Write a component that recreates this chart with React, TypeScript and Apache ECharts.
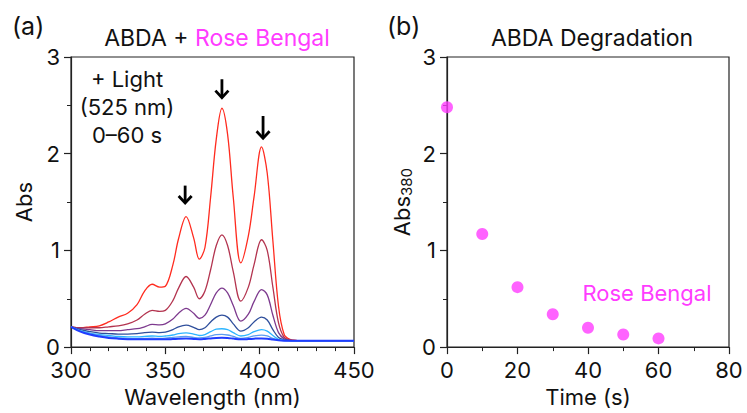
import React, { useEffect, useRef } from "react";
import * as echarts from "echarts";

// ---- Data ----
const wavelengths = [300, 305, 310, 315, 320, 325, 330, 335, 339, 343, 347, 350, 354, 357, 361, 365, 368, 371, 374, 377, 380, 383, 386, 390, 394, 397, 401, 404, 407, 410, 413, 416, 420, 425, 435, 450];

const abs0s = [0.21, 0.2, 0.21, 0.22, 0.26, 0.31, 0.35, 0.44, 0.58, 0.65, 0.62, 0.63, 0.85, 1.12, 1.35, 1.13, 0.91, 1.03, 1.55, 2.15, 2.47, 2.2, 1.55, 0.87, 1.15, 1.55, 2.07, 1.8, 1.1, 0.42, 0.13, 0.08, 0.068, 0.065, 0.065, 0.065];
const abs10s = [0.21, 0.2, 0.2, 0.2, 0.21, 0.22, 0.24, 0.28, 0.34, 0.38, 0.37, 0.38, 0.48, 0.61, 0.73, 0.62, 0.5, 0.58, 0.8, 1.05, 1.16, 1.05, 0.78, 0.475, 0.62, 0.85, 1.11, 1.0, 0.62, 0.25, 0.1, 0.075, 0.068, 0.065, 0.065, 0.065];
const abs20s = [0.21, 0.19, 0.18, 0.17, 0.17, 0.17, 0.18, 0.19, 0.21, 0.234, 0.23, 0.24, 0.29, 0.35, 0.4, 0.35, 0.296, 0.33, 0.44, 0.56, 0.61, 0.56, 0.43, 0.268, 0.34, 0.47, 0.595, 0.54, 0.33, 0.15, 0.085, 0.07, 0.066, 0.065, 0.065, 0.065];
const abs30s = [0.21, 0.18, 0.16, 0.145, 0.14, 0.135, 0.135, 0.14, 0.15, 0.155, 0.15, 0.155, 0.18, 0.21, 0.227, 0.205, 0.18, 0.2, 0.26, 0.31, 0.33, 0.31, 0.24, 0.165, 0.2, 0.26, 0.31, 0.28, 0.18, 0.1, 0.075, 0.068, 0.065, 0.065, 0.065, 0.065];
const abs40s = [0.21, 0.17, 0.145, 0.13, 0.12, 0.11, 0.105, 0.105, 0.11, 0.115, 0.11, 0.115, 0.125, 0.14, 0.148, 0.135, 0.12, 0.13, 0.16, 0.185, 0.19, 0.18, 0.15, 0.115, 0.13, 0.16, 0.18, 0.165, 0.12, 0.08, 0.07, 0.066, 0.065, 0.065, 0.065, 0.065];
const abs50s = [0.21, 0.165, 0.14, 0.12, 0.105, 0.095, 0.09, 0.088, 0.09, 0.092, 0.09, 0.092, 0.1, 0.105, 0.11, 0.1, 0.095, 0.1, 0.115, 0.128, 0.132, 0.125, 0.11, 0.09, 0.1, 0.115, 0.124, 0.115, 0.09, 0.072, 0.066, 0.065, 0.065, 0.065, 0.065, 0.065];
const abs60s = [0.21, 0.16, 0.13, 0.11, 0.095, 0.087, 0.082, 0.08, 0.08, 0.081, 0.08, 0.08, 0.083, 0.086, 0.088, 0.085, 0.082, 0.085, 0.09, 0.095, 0.097, 0.094, 0.088, 0.08, 0.083, 0.087, 0.09, 0.086, 0.078, 0.07, 0.066, 0.065, 0.065, 0.065, 0.065, 0.065];

const spectra = [abs0s, abs10s, abs20s, abs30s, abs40s, abs50s, abs60s];
const spectraColors = ["#ff2b1f", "#b3344f", "#7d3a8e", "#2f4f9c", "#2cb5ff", "#5a9cf0", "#1f3dff"];

const arrowX = [360.5, 380, 401.8];
const arrowTop = [1.67, 2.77, 2.39];
const arrowBottom = [1.48, 2.57, 2.15];

const times = [0, 10, 20, 30, 40, 50, 60];
const abs380 = [2.48, 1.17, 0.62, 0.34, 0.2, 0.13, 0.09];

const FONT = "Inter, 'Liberation Sans', Arial, sans-serif";
const MAGENTA = "#ff3cff";

export default function App() {
  const ref = useRef<HTMLDivElement>(null);

  useEffect(() => {
    if (!ref.current) return;
    const chart = echarts.init(ref.current, null, { renderer: "svg" });

    const axisCommon = {
      axisLine: { show: true, lineStyle: { color: "#222", width: 1.2 } },
      axisTick: { show: true, inside: false, length: 7, lineStyle: { color: "#222", width: 1.2 } },
      minorTick: { show: true, length: 4, lineStyle: { color: "#222", width: 1 } },
      splitLine: { show: false },
      minorSplitLine: { show: false },
      axisLabel: { color: "#111", fontSize: 22, fontFamily: FONT },
      nameTextStyle: { color: "#111", fontSize: 22, fontFamily: FONT },
    };

    const lineSeries = spectra.map((vals, i) => ({
      type: "line",
      xAxisIndex: 0,
      yAxisIndex: 0,
      data: wavelengths.map((w, j) => [w, vals[j]]),
      showSymbol: false,
      smooth: 0.35,
      lineStyle: { color: spectraColors[i], width: i === 6 ? 2 : 1.3 },
      z: 2 + i,
    }));

    const option = {
      animation: false,
      title: [
        {
          text: "{k|ABDA + }{m|Rose Bengal}",
          left: 212,
          top: 21,
          textAlign: "center",
          textStyle: {
            fontWeight: "normal",
            rich: {
              k: { color: "#111", fontSize: 23, fontWeight: "normal", fontFamily: FONT },
              m: { color: MAGENTA, fontSize: 23, fontWeight: "normal", fontFamily: FONT },
            },
          },
        },
        {
          text: "ABDA Degradation",
          left: 587,
          top: 21,
          textAlign: "center",
          textStyle: { color: "#111", fontSize: 23, fontWeight: "normal", fontFamily: FONT },
        },
      ],
      grid: [
        { left: 71, top: 57, width: 283, height: 291, show: true, borderColor: "#222", borderWidth: 1.2, backgroundColor: "transparent" },
        { left: 447, top: 57, width: 282, height: 291, show: true, borderColor: "#222", borderWidth: 1.2, backgroundColor: "transparent" },
      ],
      xAxis: [
        {
          ...axisCommon,
          type: "value",
          gridIndex: 0,
          min: 300,
          max: 450,
          interval: 50,
          minorTick: { ...axisCommon.minorTick, splitNumber: 5 },
          axisLabel: { ...axisCommon.axisLabel, margin: 14, lineHeight: 18 },
          name: "Wavelength (nm)",
          nameLocation: "middle",
          nameGap: 37,
        },
        {
          ...axisCommon,
          type: "value",
          gridIndex: 1,
          min: 0,
          max: 80,
          interval: 20,
          minorTick: { ...axisCommon.minorTick, splitNumber: 2 },
          axisLabel: { ...axisCommon.axisLabel, margin: 14, lineHeight: 18 },
          name: "Time (s)",
          nameLocation: "middle",
          nameGap: 37,
        },
      ],
      yAxis: [
        {
          ...axisCommon,
          type: "value",
          gridIndex: 0,
          min: 0,
          max: 3,
          interval: 1,
          minorTick: { ...axisCommon.minorTick, splitNumber: 2 },
          axisLabel: { ...axisCommon.axisLabel, margin: 11, lineHeight: 16, padding: [0, 0, 3, 0] },
          name: "Abs",
          nameLocation: "middle",
          nameGap: 36,
          nameRotate: 90,
        },
        {
          ...axisCommon,
          type: "value",
          gridIndex: 1,
          min: 0,
          max: 3,
          interval: 1,
          minorTick: { ...axisCommon.minorTick, splitNumber: 2 },
          axisLabel: { ...axisCommon.axisLabel, margin: 11, lineHeight: 16, padding: [0, 0, 3, 0] },
          name: "{a|Abs}{s|380}",
          nameLocation: "middle",
          nameGap: 33,
          nameRotate: 90,
          nameTextStyle: {
            rich: {
              a: { color: "#111", fontSize: 22, fontFamily: FONT },
              s: { color: "#111", fontSize: 15, fontFamily: FONT, verticalAlign: "bottom", padding: [10, 0, 0, 0] },
            },
          },
        },
      ],
      series: [
        ...lineSeries,
        {
          type: "custom",
          xAxisIndex: 0,
          yAxisIndex: 0,
          data: arrowX.map((x, i) => [x, arrowTop[i], arrowBottom[i]]),
          encode: { x: 0, y: [1, 2] },
          z: 20,
          renderItem: (params: any, api: any) => {
            const p1 = api.coord([api.value(0), api.value(1)]);
            const p2 = api.coord([api.value(0), api.value(2)]);
            return {
              type: "group",
              children: [
                { type: "line", shape: { x1: p1[0], y1: p1[1], x2: p2[0], y2: p2[1] - 1.5 }, style: { stroke: "#000", lineWidth: 2.8 } },
                {
                  type: "polyline",
                  shape: { points: [[p2[0] - 6.5, p2[1] - 8], [p2[0], p2[1] - 1], [p2[0] + 6.5, p2[1] - 8]] },
                  style: { stroke: "#000", lineWidth: 2.8, fill: "none", lineJoin: "miter" },
                },
              ],
            };
          },
        },
        {
          type: "scatter",
          xAxisIndex: 1,
          yAxisIndex: 1,
          data: times.map((t, i) => [t, abs380[i]]),
          symbolSize: 12,
          itemStyle: { color: MAGENTA },
          clip: false,
          z: 5,
        },
      ],
      graphic: [
        { type: "text", left: 12, top: 13, style: { text: "(a)", fontSize: 25, fontFamily: FONT, fill: "#111" } },
        { type: "text", left: 387, top: 13, style: { text: "(b)", fontSize: 25, fontFamily: FONT, fill: "#111" } },
        {
          type: "text",
          x: 127,
          y: 65,
          style: {
            text: "+ Light\n(525 nm)\n0–60 s",
            fontSize: 22,
            lineHeight: 28,
            fontFamily: FONT,
            fill: "#111",
            align: "center",
            verticalAlign: "top",
          },
        },
        {
          type: "text",
          x: 647,
          y: 293,
          style: { text: "Rose Bengal", fontSize: 22, fontFamily: FONT, fill: MAGENTA, align: "center", verticalAlign: "middle" },
        },
      ],
    };

    chart.setOption(option as any);
    return () => chart.dispose();
  }, []);

  return <div ref={ref} style={{ position: "fixed", left: 0, top: 0, width: 747, height: 413, background: "#fff" }} />;
}
